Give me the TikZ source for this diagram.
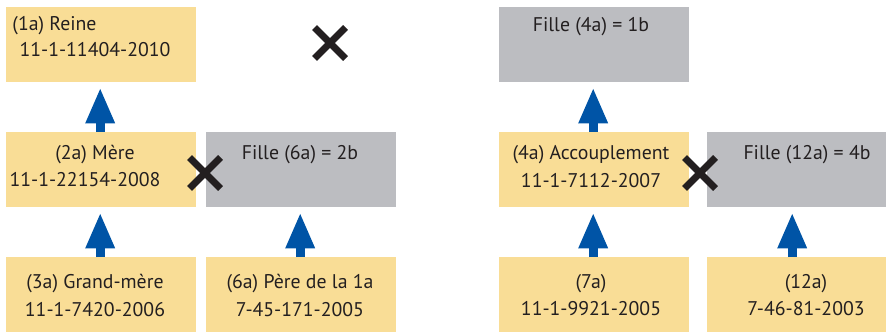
\documentclass[tikz,border=0pt]{standalone}
\usepackage{fontspec}
\setmainfont{PT Sans}
\usetikzlibrary{arrows.meta,shapes.misc}
\definecolor{boxyellow}{RGB}{249,221,150}
\definecolor{boxgrey}{RGB}{188,189,193}
\definecolor{arrowblue}{RGB}{0,84,166}
\definecolor{inkdark}{RGB}{35,31,32}
\tikzset{
  yellowbox/.style={fill=boxyellow, draw=none, minimum width=190pt, minimum height=75pt, inner sep=0pt, anchor=north west},
  greybox/.style={fill=boxgrey, draw=none, minimum width=190pt, minimum height=75pt, inner sep=0pt, anchor=north west},
  lbl/.style={anchor=base, inner sep=0pt, text=inkdark, font=\fontsize{19.8}{24}\selectfont},
  uparrow/.style={draw=arrowblue, line width=9pt, -{Triangle[width=27pt,length=36pt]}, shorten >=5pt},
  xmark/.style={cross out, draw=inkdark, line width=7pt, minimum size=24pt, inner sep=0pt}
}
\begin{document}
\begin{tikzpicture}[x=1pt,y=-1pt]
\clip (0,0) rectangle (886,334);
% boxes
\node[yellowbox] (b1a) at (6,7) {};
\node[yellowbox] (b2a) at (6,132) {};
\node[greybox]   (g6a) at (206,132) {};
\node[yellowbox] (b3a) at (6,257) {};
\node[yellowbox] (b6a) at (206,257) {};
\node[greybox]   (g4a) at (499,7) {};
\node[yellowbox] (b4a) at (499,132) {};
\node[greybox]   (g12a) at (707,132) {};
\node[yellowbox] (b7a) at (499,257) {};
\node[yellowbox] (b12a) at (707,257) {};
% labels
\node[lbl] (t1a1) at (54.5,31) {(1a) Reine};
\node[lbl] (t1a2) at (95,57) {11-1-11404-2010};
\node[lbl] (t2a1) at (95,160) {(2a) Mère};
\node[lbl] (t2a2) at (85,186) {11-1-22154-2008};
\node[lbl] (tg6a) at (300,160) {Fille (6a) = 2b};
\node[lbl] (t3a1) at (95,288) {(3a) Grand-mère};
\node[lbl] (t3a2) at (95,316) {11-1-7420-2006};
\node[lbl] (t6a1) at (300,288) {(6a) Père de la 1a};
\node[lbl] (t6a2) at (300,316) {7-45-171-2005};
\node[lbl] (tg4a) at (591,32) {Fille (4a) = 1b};
\node[lbl] (t4a1) at (591,160) {(4a) Accouplement};
\node[lbl] (t4a2) at (591,187) {11-1-7112-2007};
\node[lbl] (tg12a) at (807,160) {Fille (12a) = 4b};
\node[lbl] (t7a1) at (591,288) {(7a)};
\node[lbl] (t7a2) at (591,315) {11-1-9921-2005};
\node[lbl] (t12a1) at (806,288) {(12a)};
\node[lbl] (t12a2) at (806,315) {7-46-81-2003};
% arrows
\draw[uparrow] ([xshift=-1pt]b2a.north) -- ([xshift=-1pt]b1a.south);
\draw[uparrow] ([xshift=-1pt]b3a.north) -- ([xshift=-1pt]b2a.south);
\draw[uparrow] ([xshift=-1pt]b6a.north) -- ([xshift=-1pt]g6a.south);
\draw[uparrow] ([xshift=-1pt]b4a.north) -- ([xshift=-1pt]g4a.south);
\draw[uparrow] ([xshift=-1pt]b7a.north) -- ([xshift=-1pt]b4a.south);
\draw[uparrow] ([xshift=-10pt]b12a.north) -- ([xshift=-10pt]g12a.south);
% cross marks
\node[xmark] (x1) at (330,43) {};
\node[xmark] (x2) at (205,173) {};
\node[xmark] (x3) at (700,173) {};
\end{tikzpicture}
\end{document}
